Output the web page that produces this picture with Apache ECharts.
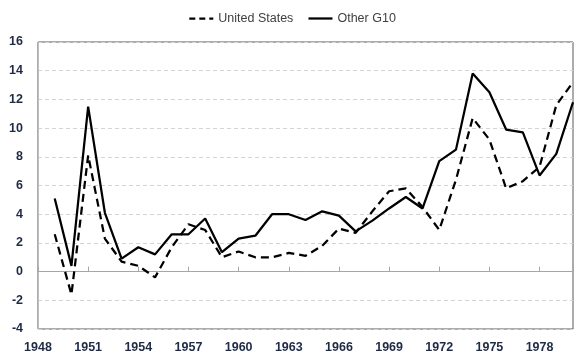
<!DOCTYPE html>
<html>
<head>
<meta charset="utf-8">
<script src="https://cdn.jsdelivr.net/npm/echarts@6/dist/echarts.min.js"></script>
<style>
html,body{margin:0;padding:0;background:#fff;}
#chart{width:584px;height:364px;}
</style>
</head>
<body>
<div id="chart"></div>
<script>
const years = [1949,1950,1951,1952,1953,1954,1955,1956,1957,1958,1959,1960,1961,1962,1963,1964,1965,1966,1967,1968,1969,1970,1971,1972,1973,1974,1975,1976,1977,1978,1979,1980];
const unitedStates = [2.6,-1.6,8.1,2.3,0.7,0.4,-0.4,1.7,3.3,2.9,1.0,1.4,1.0,1.0,1.3,1.1,1.8,3.0,2.7,4.2,5.6,5.8,4.5,2.9,6.4,10.7,9.2,5.8,6.3,7.3,11.6,13.2];
const otherG10 = [5.1,0.4,11.5,4.1,0.9,1.7,1.2,2.6,2.6,3.7,1.35,2.3,2.5,4.0,4.0,3.6,4.2,3.9,2.8,3.55,4.4,5.2,4.4,7.7,8.5,13.8,12.5,9.9,9.7,6.7,8.2,11.8];
const seriesNames = ['United States','Other G10'];
const yTicks = {min:-4, max:16, step:2};
const xTicks = {min:1948, max:1980, step:3};

const chart = echarts.init(document.getElementById('chart'), null, {renderer:'canvas'});
const labelFont = {fontFamily:'Liberation Sans', fontWeight:'bold', fontSize:12.5, color:'#1f2a44'};
chart.setOption({
  animation:false,
  backgroundColor:'#fff',
  legend:{
    top:7, left:'center',
    itemWidth:24, itemHeight:10, itemGap:14,
    textStyle:{fontFamily:'Liberation Sans', fontSize:12.5, color:'#404040'},
    itemStyle:{opacity:0},
    data:[
      {name:seriesNames[0], lineStyle:{type:[6,4], width:2.25, color:'#000'}, itemStyle:{opacity:0}},
      {name:seriesNames[1], lineStyle:{type:'solid', width:2.25, color:'#000'}, itemStyle:{opacity:0}}
    ]
  },
  grid:{left:38, top:42, right:11, bottom:35, show:true, borderColor:'#595959', borderWidth:1},
  xAxis:[{
    type:'value', min:xTicks.min, max:xTicks.max, interval:xTicks.step,
    position:'top',
    axisLine:{show:true, onZero:true, lineStyle:{color:'#a6a6a6', width:1}},
    axisTick:{show:true, inside:false, length:5, lineStyle:{color:'#a6a6a6'}},
    axisLabel:{show:false},
    splitLine:{show:false}
  },{
    type:'value', min:xTicks.min, max:xTicks.max, interval:xTicks.step,
    position:'bottom',
    axisLine:{show:false, onZero:false},
    axisTick:{show:false},
    axisLabel:Object.assign({show:true, margin:12, showMaxLabel:false, formatter:v=>String(v)}, labelFont),
    splitLine:{show:false}
  }],
  yAxis:{
    type:'value', min:yTicks.min, max:yTicks.max, interval:yTicks.step,
    axisLine:{show:true, lineStyle:{color:'#bfbfbf'}},
    axisTick:{show:false},
    axisLabel:Object.assign({margin:15}, labelFont),
    splitLine:{show:true, lineStyle:{color:'#d4d4d4', type:[4,3], width:1}}
  },
  series:[{
    name:seriesNames[0], type:'line', xAxisIndex:0, symbol:'none',
    data:years.map((y,i)=>[y, unitedStates[i]]),
    lineStyle:{color:'#000', width:2.25, type:[8,5]},
    itemStyle:{color:'#000'}
  },{
    name:seriesNames[1], type:'line', xAxisIndex:0, symbol:'none',
    data:years.map((y,i)=>[y, otherG10[i]]),
    lineStyle:{color:'#000', width:2.25, type:'solid'},
    itemStyle:{color:'#000'}
  }]
});
</script>
</body>
</html>
